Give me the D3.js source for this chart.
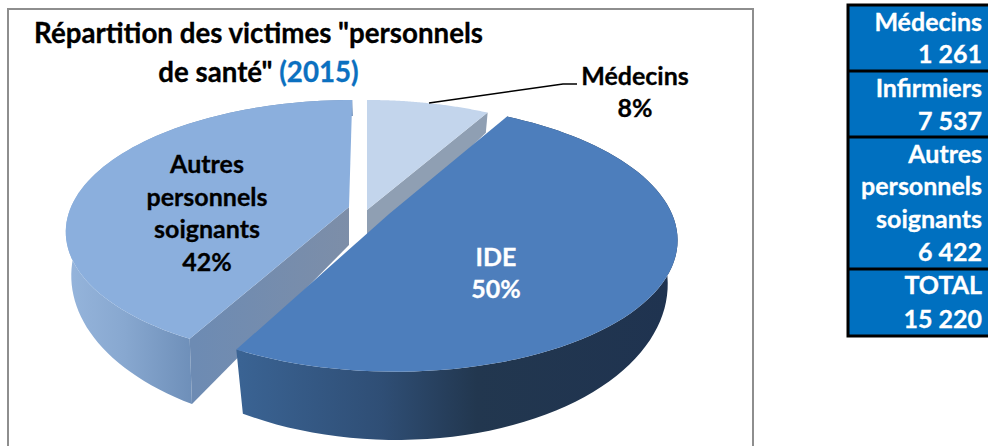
<!DOCTYPE html>
<html><head><meta charset="utf-8">
<script src="https://cdnjs.cloudflare.com/ajax/libs/d3/7.8.5/d3.min.js"></script>
<style>html,body{margin:0;padding:0;background:#fff}svg{display:block}text{font-family:Lato,"Open Sans",sans-serif;font-weight:700;stroke:currentColor;stroke-width:.3px}</style>
</head><body><svg id="c" width="988" height="446"></svg>
<script>
const sliceNames = [["Médecins"], ["IDE"], ["Autres", "personnels", "soignants"]];
const sliceValues = [1261, 7537, 6422];
const tableLabels = [["Médecins"], ["Infirmiers"], ["Autres", "personnels", "soignants"], ["TOTAL"]];
const tableValues = ["1 261", "7 537", "6 422", "15 220"];
const titleLines = ['Répartition des victimes "personnels', 'de santé" '];
const titleYear = "(2015)";

const svg = d3.select("#c");
const defs = svg.append("defs");
function grad(id, x1, x2, stops) {
  const g = defs.append("linearGradient").attr("id", id).attr("gradientUnits", "userSpaceOnUse")
    .attr("x1", x1).attr("x2", x2).attr("y1", 0).attr("y2", 0);
  stops.forEach(s => g.append("stop").attr("offset", s[0]).attr("stop-color", s[1]));
}
grad("wallA", 65, 195, [[0, "#96b5dc"], [0.45, "#88a8d0"], [1, "#6d8eb8"]]);
grad("cutA", 195, 350, [[0, "#6d8bb3"], [1, "#7d8ea8"]]);
grad("wallI", 240, 670, [[0, "#3a6393"], [0.33, "#2f4e75"], [0.55, "#22374f"], [1, "#1f3350"]]);

svg.append("rect").attr("x", 8).attr("y", 9).attr("width", 745).attr("height", 450)
  .attr("fill", "#fff").attr("stroke", "#8e8e8e").attr("stroke-width", 2);

const arcs = d3.pie().sort(null).value(d => d)(sliceValues);
const k = 0.178, drop = 38;
const geom = [
  {ax: 367, ay: 210, R: 280, A: 129.6, A2: 153.5, skew: 0, shrink: 0.985, top: "#c3d5ec", cut: "#8f9fb3"},
  {ax: 389, ay: 214, R: 283, A: 129.6, A2: 154.5, skew: 0.04, shrink: 0.965, top: "#4d7ebc", cut: "#2f5079", wall: "url(#wallI)"},
  {ax: 349, ay: 207, R: 278, A: 126, A2: 152, skew: -0.03, shrink: 0.98, top: "#8bafdd", cut: "url(#cutA)", wall: "url(#wallA)"}
];
const pt = (g, t, low) => {
  const w = 1 + k * Math.cos(t);
  const dy = (low ? g.A2 : g.A) * -Math.cos(t) / w;
  return [g.ax + g.R * (low ? g.shrink : 1) * Math.sin(t) / w + g.skew * dy,
          g.ay + (low ? drop : 0) + dy];
};
const line = d3.line();
function arcPts(g, a, low) {
  const n = 80;
  return d3.range(n + 1).map(i => pt(g, a.startAngle + (a.endAngle - a.startAngle) * i / n, low));
}
function drawSlice(i) {
  const g = geom[i], a = arcs[i], gr = svg.append("g");
  const apexT = [g.ax, g.ay], apexB = [g.ax, g.ay + drop];
  if (g.wall) {
    gr.append("path").attr("fill", g.wall)
      .attr("d", line(arcPts(g, a, false).concat(arcPts(g, a, true).reverse())) + "Z");
  }
  const edges = i === 0 ? [a.endAngle] : i === 2 ? [a.startAngle] : [];
  edges.forEach(t => gr.append("path").attr("fill", g.cut)
    .attr("d", line([apexT, pt(g, t, false), pt(g, t, true), apexB]) + "Z"));
  gr.append("path").attr("fill", g.top)
    .attr("d", line([apexT].concat(arcPts(g, a, false))) + "Z");
}
[2, 0, 1].forEach(drawSlice);

// leader line
const leader = [[429, 103], [563, 84], [577, 84]];
svg.append("path").attr("d", line(leader)).attr("fill", "none").attr("stroke", "#000").attr("stroke-width", 1.6);

// title
const tS = 27.7;
svg.append("text").attr("x", 258.5).attr("y", 43).attr("text-anchor", "middle").attr("font-size", tS).style("color", "#000").attr("fill", "#000").text(titleLines[0]);
const t2 = svg.append("text").attr("x", 258.5).attr("y", 82).attr("text-anchor", "middle").attr("font-size", tS).style("color", "#000").attr("fill", "#000").attr("xml:space","preserve");
t2.append("tspan").text(titleLines[1]);
t2.append("tspan").style("color", "#0b70c0").attr("fill", "#0b70c0").text(titleYear);

// slice labels
const pct = v => Math.round(100 * v / d3.sum(sliceValues)) + "%";
const labelAt = [
  {x: 635, ys: [85, 117], fill: "#000"},
  {x: 496, ys: [266, 298], fill: "#fff"},
  {x: 207, ys: [173, 206, 238, 271], fill: "#000"}
];
labelAt.forEach((l, i) => {
  sliceNames[i].concat([pct(sliceValues[i])]).forEach((s, j) => {
    svg.append("text").attr("x", l.x).attr("y", l.ys[j]).attr("text-anchor", "middle")
      .attr("font-size", 25).style("color", l.fill).attr("fill", l.fill).text(s);
  });
});

// table
const rowTops = [5, 71, 137, 269, 336];
const rowBase = [[31, 63], [97, 130], [163, 195, 228, 261], [294, 328]];
svg.append("rect").attr("x", 848).attr("y", rowTops[0]).attr("width", 145).attr("height", rowTops[4] - rowTops[0])
  .attr("fill", "#0070c0").attr("stroke", "#000").attr("stroke-width", 3);
rowTops.slice(1, 4).forEach(y => svg.append("line").attr("x1", 848).attr("x2", 988).attr("y1", y).attr("y2", y)
  .attr("stroke", "#000").attr("stroke-width", 3));
tableLabels.forEach((lab, i) => {
  lab.concat([tableValues[i]]).forEach((s, j) => {
    svg.append("text").attr("x", 982).attr("y", rowBase[i][j]).attr("text-anchor", "end")
      .attr("font-size", 25).style("color", "#fff").attr("fill", "#fff").text(s);
  });
});
</script></body></html>
